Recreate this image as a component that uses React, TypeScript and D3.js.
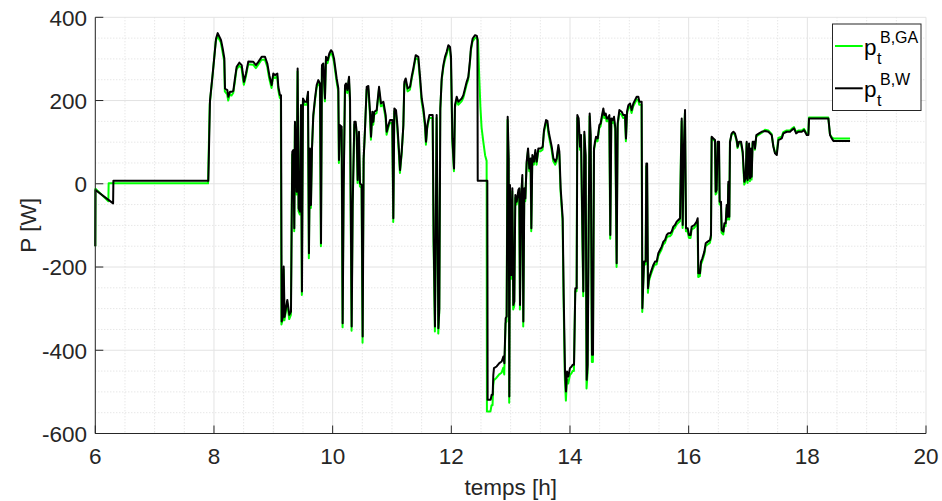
import React from 'react';
import * as d3 from 'd3';

const xTicks = [6, 8, 10, 12, 14, 16, 18, 20];
const yTicks = [-600, -400, -200, 0, 200, 400];
const xLabel = 'temps [h]';
const yLabel = 'P [W]';
const legendBase = ['p', 'p'];
const legendSub = ['t', 't'];
const legendSup = ['B,GA', 'B,W'];
const seriesColors = ['#00ff00', '#000000'];

// p_t^{B,W}  [hour, W]
const pBW: [number, number][] = [
  [6.000,-150],[6.003,-15],[6.300,-47],[6.305,7],[7.905,7],[7.933,200],[7.979,265],[8.035,349],[8.063,362],[8.119,345],
  [8.147,325],[8.175,301],[8.186,229],[8.225,225],[8.242,209],[8.270,221],[8.298,221],[8.326,223],[8.354,253],[8.382,281],
  [8.427,291],[8.467,285],[8.495,257],[8.506,245],[8.540,265],[8.579,294],[8.663,293],[8.708,285],[8.748,293],[8.804,305],
  [8.860,305],[8.899,289],[8.933,261],[8.972,237],[9.000,265],[9.028,261],[9.068,265],[9.085,233],[9.112,213],[9.130,213],
  [9.141,-331],[9.160,-320],[9.175,-199],[9.190,-320],[9.236,-279],[9.270,-315],[9.298,-307],[9.309,-111],[9.320,77],[9.337,81],
  [9.354,-107],[9.365,149],[9.394,-19],[9.410,277],[9.427,-59],[9.450,-67],[9.467,189],[9.483,-259],[9.500,205],[9.528,197],
  [9.562,197],[9.585,221],[9.601,-167],[9.618,85],[9.635,-51],[9.652,85],[9.674,165],[9.703,205],[9.731,237],[9.759,249],
  [9.787,241],[9.804,-143],[9.820,285],[9.843,289],[9.871,205],[9.888,305],[9.916,297],[9.944,313],[9.972,321],[9.995,317],
  [10.023,301],[10.068,253],[10.096,229],[10.107,57],[10.124,141],[10.152,137],[10.169,-335],[10.186,-11],[10.209,237],[10.225,241],
  [10.248,225],[10.276,257],[10.293,205],[10.310,-139],[10.321,-343],[10.338,-51],[10.366,149],[10.388,149],[10.405,125],[10.422,9],
  [10.444,125],[10.461,1],[10.489,-3],[10.506,-367],[10.523,61],[10.546,133],[10.574,233],[10.602,235],[10.630,173],[10.647,113],
  [10.669,173],[10.686,149],[10.703,173],[10.742,177],[10.782,233],[10.815,193],[10.855,197],[10.894,165],[10.911,125],[10.939,141],
  [10.967,153],[11.006,153],[11.023,-83],[11.040,181],[11.068,177],[11.091,141],[11.119,77],[11.136,33],[11.164,77],[11.192,141],
  [11.209,245],[11.231,253],[11.265,229],[11.304,233],[11.332,257],[11.360,277],[11.400,309],[11.444,305],[11.473,257],[11.501,205],
  [11.529,181],[11.557,145],[11.574,101],[11.596,141],[11.630,165],[11.686,165],[11.703,-139],[11.725,-343],[11.753,165],[11.782,-347],
  [11.798,-299],[11.815,181],[11.838,253],[11.866,285],[11.894,305],[11.922,317],[11.950,333],[11.978,329],[11.995,305],[12.018,109],
  [12.046,37],[12.062,189],[12.091,209],[12.119,197],[12.147,201],[12.175,205],[12.203,213],[12.231,229],[12.259,245],[12.287,257],
  [12.315,297],[12.330,325],[12.360,349],[12.400,357],[12.430,355],[12.440,349],[12.445,7],[12.607,7],[12.612,-519],[12.663,-519],
  [12.680,-507],[12.697,-507],[12.708,-459],[12.719,-443],[12.764,-439],[12.809,-431],[12.849,-427],[12.877,-415],[12.894,-431],[12.916,-323],
  [12.933,-319],[12.950,161],[12.967,61],[12.978,-511],[12.989,-3],[13.012,-219],[13.029,-11],[13.045,-291],[13.062,-283],[13.079,-27],
  [13.102,-43],[13.130,-15],[13.146,-11],[13.158,-291],[13.175,-39],[13.197,21],[13.214,-331],[13.231,-11],[13.248,-35],[13.270,53],
  [13.293,85],[13.315,37],[13.337,61],[13.349,-107],[13.366,69],[13.394,53],[13.416,81],[13.439,53],[13.467,85],[13.506,85],
  [13.540,89],[13.562,129],[13.596,153],[13.619,151],[13.641,125],[13.664,109],[13.692,89],[13.720,61],[13.754,53],[13.776,61],
  [13.804,93],[13.821,77],[13.843,-11],[13.877,-83],[13.894,-267],[13.916,-451],[13.933,-499],[13.950,-451],[13.972,-463],[14.000,-443],
  [14.028,-439],[14.045,-435],[14.068,-435],[14.090,-251],[14.113,-251],[14.124,165],[14.146,157],[14.169,89],[14.186,117],[14.208,-99],
  [14.225,-259],[14.242,125],[14.264,69],[14.281,-471],[14.298,-435],[14.315,-107],[14.332,169],[14.349,117],[14.371,-411],[14.388,-411],
  [14.405,85],[14.422,101],[14.439,113],[14.467,109],[14.495,141],[14.517,145],[14.540,165],[14.562,181],[14.579,165],[14.602,169],
  [14.619,157],[14.636,157],[14.664,165],[14.680,-123],[14.697,157],[14.720,153],[14.742,161],[14.765,133],[14.787,-191],[14.804,145],
  [14.832,177],[14.871,173],[14.899,165],[14.928,165],[14.944,109],[14.961,173],[14.984,189],[15.012,193],[15.040,177],[15.068,193],
  [15.096,201],[15.124,209],[15.152,209],[15.169,197],[15.208,197],[15.220,-299],[15.248,-187],[15.276,-187],[15.287,49],[15.300,49],
  [15.315,-251],[15.332,-227],[15.366,-211],[15.405,-195],[15.433,-187],[15.461,-187],[15.489,-167],[15.517,-159],[15.546,-151],[15.574,-139],
  [15.602,-135],[15.630,-123],[15.658,-119],[15.686,-119],[15.714,-115],[15.742,-103],[15.770,-99],[15.798,-91],[15.826,-87],[15.855,-83],
  [15.871,69],[15.883,157],[15.900,-99],[15.916,69],[15.939,177],[15.956,-107],[15.984,-107],[16.006,-123],[16.034,-123],[16.051,-103],
  [16.096,-99],[16.135,-91],[16.152,-83],[16.163,-215],[16.191,-215],[16.208,-187],[16.231,-179],[16.265,-163],[16.287,-143],[16.321,-139],
  [16.360,-135],[16.377,-123],[16.388,113],[16.416,109],[16.444,105],[16.456,-19],[16.472,-15],[16.489,101],[16.512,101],[16.523,-43],
  [16.545,-43],[16.557,-111],[16.585,-115],[16.602,-95],[16.624,-95],[16.641,-51],[16.658,-79],[16.669,5],[16.686,-79],[16.697,101],
  [16.725,121],[16.754,125],[16.781,121],[16.810,105],[16.826,89],[16.849,101],[16.883,101],[16.911,77],[16.939,5],[16.961,13],
  [16.978,101],[16.995,9],[17.018,97],[17.034,13],[17.051,85],[17.062,17],[17.079,101],[17.107,101],[17.118,85],[17.141,117],
  [17.186,121],[17.231,125],[17.288,127],[17.344,125],[17.400,117],[17.428,89],[17.456,73],[17.485,69],[17.513,105],[17.569,109],
  [17.597,121],[17.653,125],[17.709,125],[17.737,129],[17.777,133],[17.811,121],[17.850,125],[17.906,125],[17.945,129],[17.990,117],
  [18.018,117],[18.029,157],[18.355,157],[18.383,117],[18.411,109],[18.439,103],[18.720,103],
];

// p_t^{B,GA}  [hour, W]
const pBGA: [number, number][] = [
  [6.000,-150],[6.003,-12],[6.220,-42],[6.225,1],[7.900,1],[7.928,190],[7.975,258],[8.030,342],[8.060,355],[8.115,340],
  [8.143,318],[8.172,295],[8.183,222],[8.222,215],[8.240,200],[8.268,215],[8.296,212],[8.324,218],[8.352,245],[8.380,275],
  [8.425,284],[8.465,278],[8.492,248],[8.504,238],[8.538,258],[8.577,287],[8.661,286],[8.706,278],[8.746,286],[8.802,298],
  [8.858,298],[8.897,282],[8.931,253],[8.970,230],[8.998,258],[9.026,254],[9.066,258],[9.083,226],[9.110,206],[9.127,206],
  [9.137,-338],[9.158,-327],[9.172,-206],[9.187,-328],[9.234,-286],[9.268,-325],[9.296,-315],[9.307,-118],[9.318,70],[9.335,74],
  [9.352,-114],[9.363,142],[9.392,-26],[9.408,270],[9.425,-66],[9.448,-74],[9.465,182],[9.481,-267],[9.498,198],[9.526,190],
  [9.560,190],[9.583,214],[9.599,-179],[9.616,78],[9.633,-58],[9.650,78],[9.672,158],[9.701,198],[9.729,230],[9.757,242],
  [9.785,234],[9.802,-150],[9.818,278],[9.841,282],[9.869,198],[9.886,298],[9.914,290],[9.942,306],[9.970,314],[9.993,310],
  [10.021,294],[10.066,246],[10.094,222],[10.105,50],[10.122,134],[10.150,130],[10.167,-345],[10.184,-18],[10.207,230],[10.223,234],
  [10.246,218],[10.274,250],[10.291,198],[10.308,-146],[10.319,-353],[10.336,-58],[10.364,142],[10.386,142],[10.403,118],[10.420,2],
  [10.442,118],[10.459,-6],[10.487,-10],[10.504,-382],[10.521,54],[10.544,126],[10.572,226],[10.600,228],[10.628,166],[10.645,106],
  [10.667,166],[10.684,142],[10.701,166],[10.740,170],[10.780,226],[10.813,186],[10.853,190],[10.892,158],[10.909,118],[10.937,134],
  [10.965,146],[11.004,146],[11.021,-92],[11.038,174],[11.066,170],[11.089,134],[11.117,70],[11.134,26],[11.162,70],[11.190,134],
  [11.207,238],[11.229,246],[11.263,222],[11.302,226],[11.330,250],[11.358,270],[11.398,302],[11.442,298],[11.471,250],[11.499,198],
  [11.527,174],[11.555,138],[11.572,94],[11.594,134],[11.628,158],[11.684,158],[11.701,-146],[11.723,-355],[11.751,158],[11.780,-360],
  [11.796,-310],[11.813,174],[11.836,246],[11.864,278],[11.892,298],[11.920,310],[11.948,326],[11.976,322],[11.993,298],[12.016,102],
  [12.044,30],[12.060,182],[12.089,202],[12.117,190],[12.145,194],[12.173,198],[12.201,206],[12.229,222],[12.257,238],[12.285,250],
  [12.313,290],[12.328,318],[12.358,342],[12.398,350],[12.428,350],[12.450,345],[12.470,260],[12.490,185],[12.510,135],[12.540,100],
  [12.570,68],[12.595,55],[12.600,-547],[12.660,-547],[12.678,-532],[12.695,-532],[12.706,-485],[12.717,-472],[12.762,-466],[12.807,-458],
  [12.847,-454],[12.875,-442],[12.892,-458],[12.914,-335],[12.931,-331],[12.948,154],[12.965,54],[12.976,-526],[12.987,-10],[13.010,-228],
  [13.027,-18],[13.043,-302],[13.060,-294],[13.077,-34],[13.100,-50],[13.128,-22],[13.144,-18],[13.156,-302],[13.173,-46],[13.195,14],
  [13.212,-343],[13.229,-18],[13.246,-42],[13.268,46],[13.291,78],[13.313,30],[13.335,54],[13.347,-114],[13.364,62],[13.392,46],
  [13.414,74],[13.437,46],[13.465,78],[13.504,78],[13.538,82],[13.560,122],[13.594,146],[13.617,144],[13.639,118],[13.662,102],
  [13.690,82],[13.718,54],[13.752,46],[13.774,54],[13.802,86],[13.819,70],[13.841,-18],[13.875,-90],[13.892,-278],[13.914,-470],
  [13.931,-521],[13.948,-470],[13.970,-480],[13.998,-460],[14.026,-455],[14.043,-450],[14.066,-450],[14.088,-258],[14.111,-258],[14.122,158],
  [14.144,150],[14.167,82],[14.184,110],[14.206,-106],[14.223,-270],[14.240,118],[14.262,62],[14.279,-492],[14.296,-455],[14.313,-114],
  [14.330,162],[14.347,110],[14.369,-428],[14.386,-428],[14.403,78],[14.420,94],[14.437,106],[14.465,102],[14.493,134],[14.515,138],
  [14.538,158],[14.560,174],[14.577,158],[14.600,162],[14.617,150],[14.634,150],[14.662,158],[14.678,-132],[14.695,150],[14.718,146],
  [14.740,154],[14.763,126],[14.785,-200],[14.802,138],[14.830,170],[14.869,166],[14.897,158],[14.926,158],[14.942,102],[14.959,166],
  [14.982,182],[15.010,186],[15.038,170],[15.066,186],[15.094,194],[15.122,202],[15.150,202],[15.167,190],[15.206,190],[15.218,-308],
  [15.246,-194],[15.274,-194],[15.285,42],[15.298,42],[15.313,-262],[15.330,-234],[15.364,-218],[15.403,-202],[15.431,-194],[15.459,-194],
  [15.487,-174],[15.515,-166],[15.544,-158],[15.572,-146],[15.600,-142],[15.628,-130],[15.656,-126],[15.684,-126],[15.712,-122],[15.740,-110],
  [15.768,-106],[15.796,-98],[15.824,-94],[15.853,-90],[15.869,62],[15.881,150],[15.898,-106],[15.914,62],[15.937,170],[15.954,-114],
  [15.982,-114],[16.004,-130],[16.032,-130],[16.049,-110],[16.094,-106],[16.133,-98],[16.150,-90],[16.161,-224],[16.189,-222],[16.206,-194],
  [16.229,-186],[16.263,-170],[16.285,-150],[16.319,-146],[16.358,-142],[16.375,-130],[16.386,110],[16.414,106],[16.442,102],[16.454,-26],
  [16.470,-22],[16.487,98],[16.510,98],[16.521,-50],[16.543,-50],[16.555,-118],[16.583,-122],[16.600,-102],[16.622,-102],[16.639,-58],
  [16.656,-86],[16.667,-2],[16.684,-86],[16.695,98],[16.723,118],[16.752,122],[16.779,118],[16.808,102],[16.824,86],[16.847,98],
  [16.881,98],[16.909,74],[16.937,-2],[16.959,6],[16.976,98],[16.993,2],[17.016,94],[17.032,6],[17.049,82],[17.060,10],
  [17.077,98],[17.105,98],[17.116,82],[17.139,114],[17.184,118],[17.229,122],[17.286,130],[17.342,128],[17.398,120],[17.426,92],
  [17.454,76],[17.483,72],[17.511,110],[17.567,113],[17.595,124],[17.651,128],[17.707,128],[17.735,132],[17.775,136],[17.809,124],
  [17.848,128],[17.904,128],[17.943,132],[17.988,120],[18.016,120],[18.027,159],[18.353,159],[18.380,120],[18.409,112],[18.437,109],
  [18.720,109],
];

const FONT = '"Liberation Sans", Arial, Helvetica, sans-serif';

export default function App() {
  const width = 942;
  const height = 501;
  const left = 95.3, right = 926, top = 17.3, bottom = 433.5;

  const x = d3.scaleLinear().domain([6, 20]).range([left, right]);
  const y = d3.scaleLinear().domain([-600, 400]).range([bottom, top]);
  const line = d3.line<[number, number]>().x(d => x(d[0])).y(d => y(d[1]));

  const xMinor = d3.range(6, 20.001, 0.5).filter(v => Math.abs(v / 2 - Math.round(v / 2)) > 1e-6);
  const yMinor = d3.range(-600, 400.001, 50).filter(v => v % 200 !== 0);

  const axisColor = '#262626';
  const legX = 832.5, legY = 24, legW = 88.5, legH = 86.5;

  return (
    <svg width={width} height={height} style={{ position: 'absolute', left: 0, top: 0, display: 'block', background: '#fff' }}>
      <rect x={0} y={0} width={width} height={height} fill="#ffffff" />
      {/* minor grid */}
      {xMinor.map(v => (
        <line key={'xm' + v} x1={x(v)} x2={x(v)} y1={top} y2={bottom} stroke="#dcdcdc" strokeWidth={1} strokeDasharray="1,2" />
      ))}
      {yMinor.map(v => (
        <line key={'ym' + v} x1={left} x2={right} y1={y(v)} y2={y(v)} stroke="#dcdcdc" strokeWidth={1} strokeDasharray="1,2" />
      ))}
      {/* major grid */}
      {xTicks.map(v => (
        <line key={'xg' + v} x1={x(v)} x2={x(v)} y1={top} y2={bottom} stroke="#e3e3e3" strokeWidth={1} />
      ))}
      {yTicks.map(v => (
        <line key={'yg' + v} x1={left} x2={right} y1={y(v)} y2={y(v)} stroke="#e3e3e3" strokeWidth={1} />
      ))}
      {/* series */}
      <path d={line(pBGA) || ''} fill="none" stroke={seriesColors[0]} strokeWidth={2} strokeLinejoin="round" />
      <path d={line(pBW) || ''} fill="none" stroke={seriesColors[1]} strokeWidth={2} strokeLinejoin="round" />
      {/* axes */}
      <line x1={left} x2={left} y1={top} y2={bottom} stroke={axisColor} strokeWidth={1} />
      <line x1={left} x2={right} y1={bottom} y2={bottom} stroke={axisColor} strokeWidth={1} />
      {xTicks.map(v => (
        <g key={'xt' + v}>
          <line x1={x(v)} x2={x(v)} y1={bottom} y2={bottom - 8} stroke={axisColor} strokeWidth={1} />
          <text x={x(v)} y={464} textAnchor="middle" fontFamily={FONT} fontSize={22.5} fill={axisColor}>{v}</text>
        </g>
      ))}
      {yTicks.map(v => (
        <g key={'yt' + v}>
          <line x1={left} x2={left + 8} y1={y(v)} y2={y(v)} stroke={axisColor} strokeWidth={1} />
          <text x={87} y={y(v) + 8.3} textAnchor="end" fontFamily={FONT} fontSize={22.5} fill={axisColor}>{v}</text>
        </g>
      ))}
      <text x={(left + right) / 2} y={495} textAnchor="middle" fontFamily={FONT} fontSize={22.5} fill={axisColor}>{xLabel}</text>
      <text transform={`translate(36, ${(top + bottom) / 2}) rotate(-90)`} textAnchor="middle" fontFamily={FONT} fontSize={22.5} fill={axisColor}>{yLabel}</text>
      {/* legend */}
      <rect x={legX} y={legY} width={legW} height={legH} fill="#ffffff" stroke="#262626" strokeWidth={1} />
      {legendBase.map((b, i) => {
        const cy = 46 + i * 42.3;
        return (
          <g key={'lg' + i}>
            <line x1={835} x2={862.7} y1={cy} y2={cy} stroke={seriesColors[i]} strokeWidth={2} />
            <text x={864} y={cy + 9} fontFamily={FONT} fontSize={22.5} fill="#000">{b}</text>
            <text x={877} y={cy + 18} fontFamily={FONT} fontSize={16} fill="#000">{legendSub[i]}</text>
            <text x={880} y={cy - 3} fontFamily={FONT} fontSize={16} fill="#000">{legendSup[i]}</text>
          </g>
        );
      })}
    </svg>
  );
}
